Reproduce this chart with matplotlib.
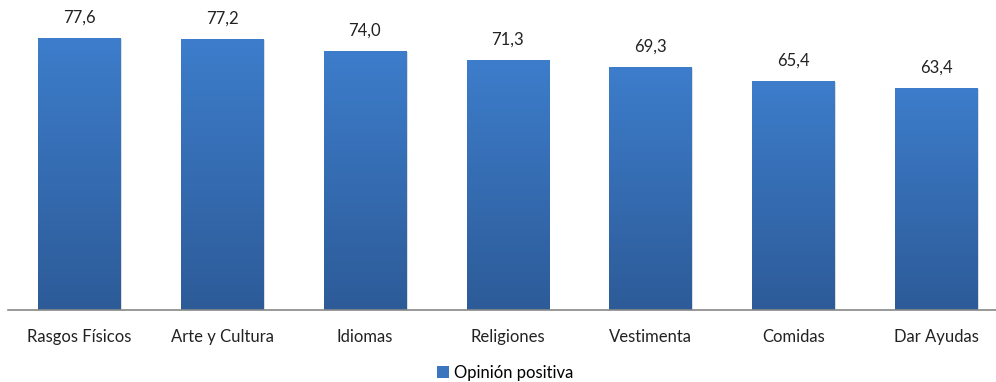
import matplotlib
matplotlib.use("Agg")
import matplotlib.pyplot as plt
import numpy as np
from matplotlib.colors import LinearSegmentedColormap
from matplotlib.patches import Patch

categories = ["Rasgos Físicos", "Arte y Cultura", "Idiomas", "Religiones",
              "Vestimenta", "Comidas", "Dar Ayudas"]
values = [77.6, 77.2, 74.0, 71.3, 69.3, 65.4, 63.4]
labels = ["77,6", "77,2", "74,0", "71,3", "69,3", "65,4", "63,4"]
series_name = "Opinión positiva"

plt.rcParams['font.family'] = ['Lato', 'DejaVu Sans']

W, H = 996, 382
fig = plt.figure(figsize=(W / 100, H / 100), dpi=100)
ax = fig.add_axes([8 / W, (H - 310) / H, (996 - 8) / W, 310 / H])

x = np.arange(len(categories))
bars = ax.bar(x, values, width=0.575, color="#3A75BE", zorder=2)
ax.set_ylim(0, 310 / 3.505)
ax.set_xlim(-0.5, 6.42)

cmap = LinearSegmentedColormap.from_list("g", ["#2D5B98", "#3D7DCB"])
grad = np.linspace(0, 1, 256).reshape(-1, 1)
for b in bars:
    bx, by = b.get_x(), b.get_y()
    bw, bh = b.get_width(), b.get_height()
    # shadow
    ax.add_patch(plt.Rectangle((bx + 0.012, by), bw, bh - 0.3, color="#BBBBBB",
                               alpha=0.5, zorder=1, lw=0))
    im = ax.imshow(grad, cmap=cmap, aspect="auto", origin="lower",
                   extent=(bx, bx + bw, by, by + bh), zorder=3)
    im.set_clip_path(b)

for xi, v, lab in zip(x, values, labels):
    ax.annotate(lab, (xi, v), xytext=(0, 9), textcoords="offset points",
                ha="center", va="bottom", fontsize=12, color="#222222")

ax.set_xticks(x)
ax.set_xticklabels(categories, fontsize=12, color="#222222")
ax.tick_params(axis="x", length=0, pad=14)
ax.set_yticks([])
for s in ["top", "right", "left"]:
    ax.spines[s].set_visible(False)
ax.spines["bottom"].set_color("#888888")
ax.spines["bottom"].set_linewidth(1.2)
ax.spines["bottom"].set_zorder(5)

handle = Patch(facecolor="#3A75BE", edgecolor="none")
fig.legend([handle], [series_name], loc="center", bbox_to_anchor=(505 / W, 1 - 373 / H),
           frameon=False, fontsize=12, handlelength=0.7, handleheight=0.7,
           handletextpad=0.3)

fig.savefig("out.png", dpi=100)
